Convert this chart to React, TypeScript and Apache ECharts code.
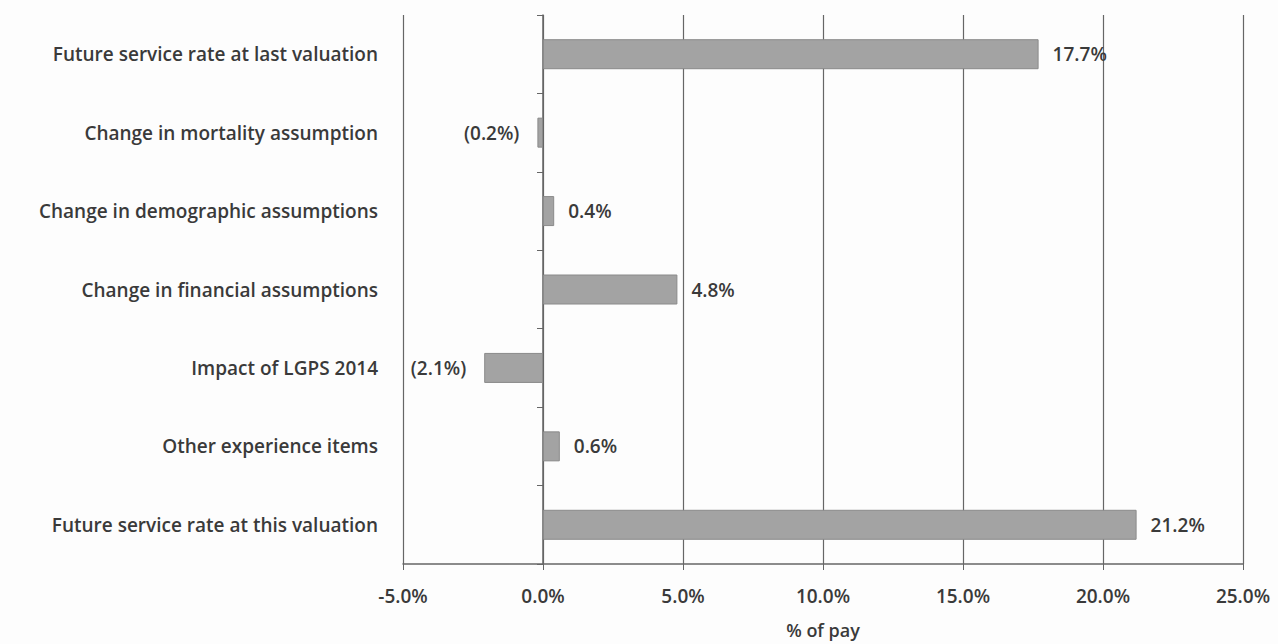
import React, { useEffect, useRef } from "react";
import * as echarts from "echarts";

const categories = [
  "Future service rate at last valuation",
  "Change in mortality assumption",
  "Change in demographic assumptions",
  "Change in financial assumptions",
  "Impact of LGPS 2014",
  "Other experience items",
  "Future service rate at this valuation",
];
const values = [17.7, -0.2, 0.4, 4.8, -2.1, 0.6, 21.2];
const xMin = -5;
const xMax = 25;
const xStep = 5;
const axisName = "% of pay";

const fmtVal = (v: number) => (v < 0 ? `(${Math.abs(v).toFixed(1)}%)` : `${v.toFixed(1)}%`);

export default function App() {
  const ref = useRef<HTMLDivElement>(null);
  useEffect(() => {
    document.body.style.margin = "0";
    const chart = echarts.init(ref.current!, null, { renderer: "svg" });
    const font = "'Open Sans', sans-serif";
    chart.setOption({
      animation: false,
      backgroundColor: "#fdfdfd",
      grid: { left: 403, right: 35, top: 15, bottom: 79 },
      xAxis: {
        type: "value",
        min: xMin,
        max: xMax,
        interval: xStep,
        name: axisName,
        nameLocation: "middle",
        nameGap: 57,
        nameTextStyle: { fontFamily: font, fontSize: 18, fontWeight: 600, color: "#3a3a3a" },
        axisLine: { show: true, lineStyle: { color: "#666", width: 1.5 } },
        axisTick: { show: true, length: 6, lineStyle: { color: "#666" } },
        axisLabel: {
          fontFamily: font,
          fontSize: 19,
          fontWeight: 600,
          color: "#3a3a3a",
          margin: 22,
          formatter: (v: number) => `${v.toFixed(1)}%`,
        },
        splitLine: { show: true, lineStyle: { color: "#666", width: 1.2 } },
      },
      yAxis: [
        {
          type: "category",
          data: categories,
          inverse: true,
          position: "left",
          axisLine: { show: false, onZero: false },
          axisTick: { show: false },
          axisLabel: { fontFamily: font, fontSize: 19, fontWeight: 600, color: "#3a3a3a", margin: 25 },
        },
        {
          type: "category",
          data: categories,
          inverse: true,
          position: "left",
          axisLine: { show: true, onZero: true, lineStyle: { color: "#666", width: 1.5 } },
          axisTick: { show: true, length: 6, lineStyle: { color: "#666" } },
          axisLabel: { show: false },
        },
      ],
      series: [
        {
          type: "bar",
          yAxisIndex: 0,
          barWidth: 30,
          data: values.map((v) =>
            v < 0
              ? { value: v, label: { position: "left", distance: 18 } }
              : { value: v }
          ),
          itemStyle: { color: "#a3a3a3", borderColor: "#8a8a8a", borderWidth: 1 },
          label: {
            show: true,
            position: "right",
            fontFamily: font,
            fontSize: 19,
            fontWeight: 600,
            color: "#3a3a3a",
            distance: 14,
            formatter: (p: any) => fmtVal(p.value),
          },
        },
      ],
    });
    return () => chart.dispose();
  }, []);
  return <div ref={ref} style={{ width: 1278, height: 644 }} />;
}
